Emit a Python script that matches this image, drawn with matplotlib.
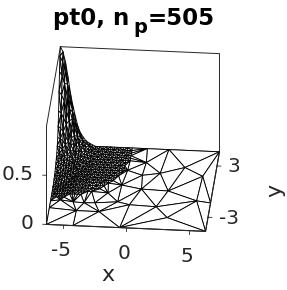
import matplotlib
matplotlib.use("Agg")
import matplotlib.pyplot as plt

# limits of the box
x_lim = [-6.3, 6.3]
y_lim = [-4.65, 4.65]
z_lim = [0, 1]

# dense part of the mesh, around the peak corner
x_dense = [-6.3, -6.1, -5.9, -5.7, -5.5, -5.3, -5.1, -4.9, -4.7, -4.5, -4.25, -4.0,
           -3.75, -3.5, -3.2, -2.9, -2.6, -2.3, -2.0, -1.65, -1.3, -0.95, -0.6]
y_dense = [4.65, 4.35, 4.05, 3.75, 3.45, 3.15, 2.85, 2.55, 2.25, 1.95,
           1.65, 1.35, 1.05, 0.75, 0.45, 0.1, -0.25, -0.6, -1.0, -1.4]
# how many of x_dense each y_dense row uses
row_len = [23, 23, 23, 23, 23, 23, 22, 22, 22, 22, 21, 21, 20, 20, 19, 18, 17, 15, 12, 6]
# heights read along each row, the rest of the row is on the floor
z_dense = [
    [1, .95, .85, .70, .53, .40, .29, .19, .13, .09, .05, .03, .015],
    [.93, .88, .79, .65, .49, .37, .27, .18, .12, .08, .05, .03, .01],
    [.80, .76, .68, .56, .42, .32, .23, .15, .10, .07, .04, .02, .01],
    [.62, .59, .53, .43, .33, .25, .18, .12, .08, .06, .03, .02, .01],
    [.45, .43, .38, .32, .24, .18, .13, .09, .06, .04, .02, .01],
    [.32, .30, .27, .22, .17, .13, .09, .06, .04, .03, .02, .01],
    [.23, .22, .20, .16, .12, .09, .07, .04, .03, .02, .01],
    [.17, .16, .14, .12, .09, .07, .05, .03, .02, .02, .01],
    [.13, .12, .11, .09, .07, .05, .04, .02, .02, .01],
    [.10, .10, .09, .07, .05, .04, .03, .02, .01],
    [.08, .08, .07, .06, .04, .03, .02, .02, .01],
    [.06, .06, .05, .04, .03, .02, .02, .01],
    [.04, .04, .03, .03, .02, .02, .01],
    [.03, .03, .03, .02, .02, .01],
    [.02, .02, .02, .01],
    [.01, .01],
]

# coarse part of the mesh, all on the floor
x_coarse = [6.3, 2.3, 0.58, 0.7, 1.94, 3.8, 5.32, 2.8, 5.18, 6.3, 6.3, 2.08, 3.09, 0.68, 0.56,
            -0.05, -0.51, -4.2, -6.3, -4.15, -2.35, -2.79, -1.9, -1.02, -6.3, -6.3, -5.55,
            -4.51, -0.67, -0.93, -3.64]
y_coarse = [4.65, 4.65, 4.65, 3.03, 1.85, 2.65, 1.72, -0.16, -1.16, -1.33, -4.65, -2.05, -3.25,
            -0.07, 1.53, -1.95, -4.65, -4.65, -4.65, -2.9, -2.9, -1.9, -0.69, -1.67, -2.7, -1.9,
            -1.73, -1.9, 2.03, 0.29, -1.95]

x_ticks = [-5, 0, 5]
y_ticks = [-3, 3]
z_ticks = [0, 0.5]

xs, ys, zs = [], [], []
for i, yv in enumerate(y_dense):
    for j in range(row_len[i]):
        xs.append(x_dense[j])
        ys.append(yv)
        if i < len(z_dense) and j < len(z_dense[i]):
            zs.append(z_dense[i][j])
        else:
            zs.append(0)
xs += x_coarse
ys += y_coarse
zs += [0] * len(x_coarse)

fig = plt.figure(figsize=(2.87, 2.90), dpi=100)
ax = fig.add_axes([20 / 287, 38 / 290, 220 / 287, 220 / 290], projection="3d")
ax.set_proj_type("ortho")
ax.view_init(elev=30, azim=-85)
ax.set_box_aspect((1, 1, 0.71), zoom=1.115)
ax.computed_zorder = False
ax.set_xlim(x_lim)
ax.set_ylim(y_lim)
ax.set_zlim(z_lim)
ax.set_xticks([])
ax.set_yticks([])
ax.set_zticks([])
ax.set_axis_off()

x0, x1 = x_lim
y0, y1 = y_lim
box_col = "#262626"
# only the edges that are visible in the box
edges = [
    ([x0, x0], [y0, y0], [0, 1]),
    ([x0, x0], [y0, y1], [1, 1]),
    ([x0, x1], [y1, y1], [1, 1]),
    ([x1, x1], [y1, y1], [0, 1]),
    ([x0, x1], [y1, y1], [0, 0]),
    ([x0, x0], [y0, y1], [0, 0]),
]
for ex, ey, ez in edges:
    ax.plot(ex, ey, ez, color=box_col, lw=0.7, zorder=1)

ax.plot_trisurf(xs, ys, zs, color="white", edgecolor="black", linewidth=0.65, shade=False, zorder=2)

# front and right floor edges lie over the mesh
ax.plot([x0, x1], [y0, y0], [0, 0], color=box_col, lw=0.8, zorder=3)
ax.plot([x1, x1], [y0, y1], [0, 0], color=box_col, lw=0.8, zorder=3)

for t in x_ticks:
    ax.plot([t, t], [y0, y0], [0, -0.03], color=box_col, lw=0.6, zorder=3)
    ax.text(t - 0.15, y0, -0.26, str(t), ha="center", va="center", fontsize=14.5, color=box_col)
for t in y_ticks:
    ax.plot([x1, x1 + 0.3], [t, t], [0, 0], color=box_col, lw=0.6, zorder=3)
    ax.text(x1 + (1.35 if t > 0 else 1.65), t, 0, str(t), ha="center", va="center", fontsize=14.5, color=box_col)
for t in z_ticks:
    ax.plot([x0, x0 - 0.3], [y0, y0], [t, t], color=box_col, lw=0.6, zorder=3)
    ax.text(x0 - 1.0, y0, t, str(t), ha="right", va="center", fontsize=14.5, color=box_col)

fig.text(108 / 287, 1 - 275 / 290, "x", ha="center", va="center", fontsize=16, color=box_col)
fig.text(275 / 287, 1 - 190 / 290, "y", ha="center", va="center", fontsize=16, color=box_col, rotation=90)
# title in pieces, the subscript sits apart from its neighbours
fig.text(53 / 287, 1 - 25 / 290, "pt0, n", ha="left", va="baseline", fontsize=16.5, fontweight="bold")
fig.text(133 / 287, 1 - 33 / 290, "p", ha="left", va="baseline", fontsize=14, fontweight="bold")
fig.text(148 / 287, 1 - 25 / 290, "=505", ha="left", va="baseline", fontsize=16.5, fontweight="bold")

fig.savefig("out.png", dpi=100)
